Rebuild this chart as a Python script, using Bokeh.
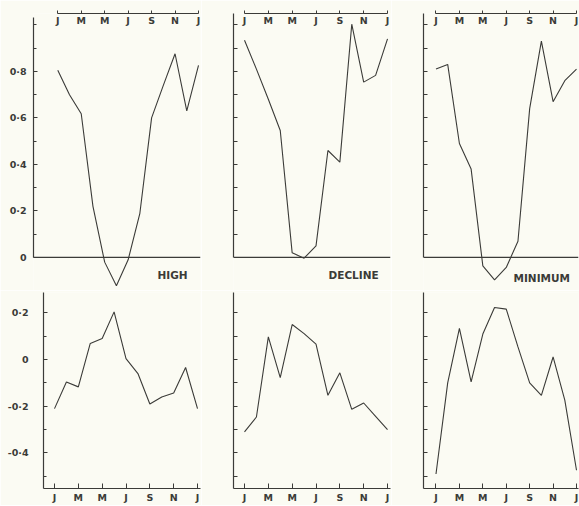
from bokeh.plotting import figure
from bokeh.models import Range1d, FixedTicker, Span
from bokeh.layouts import column, row
from bokeh.embed import file_html
from bokeh.resources import INLINE
from bokeh.core.properties import value

# ---------------- data ----------------
months = list(range(13))                      # Jan .. Jan
month_ticks = [0, 2, 4, 6, 8, 10, 12]
month_labels = ["J", "M", "M", "J", "S", "N", "J"]
panel_names = ["HIGH", "DECLINE", "MINIMUM"]

high_top = [0.805, 0.70, 0.618, 0.22, -0.02, -0.122, -0.01, 0.19, 0.60, 0.74, 0.876, 0.63, 0.826]
decline_top = [0.934, 0.81, 0.68, 0.546, 0.02, -0.003, 0.05, 0.46, 0.41, 1.003, 0.754, 0.783, 0.94]
minimum_top = [0.81, 0.83, 0.49, 0.38, -0.036, -0.096, -0.043, 0.07, 0.64, 0.93, 0.67, 0.76, 0.81]

high_bot = [-0.21, -0.096, -0.117, 0.069, 0.09, 0.204, 0.004, -0.06, -0.19, -0.16, -0.143, -0.034, -0.21]
decline_bot = [-0.31, -0.246, 0.097, -0.077, 0.15, 0.111, 0.066, -0.153, -0.057, -0.213, -0.186, -0.243, -0.30]
minimum_bot = [-0.49, -0.10, 0.133, -0.096, 0.109, 0.223, 0.216, 0.054, -0.10, -0.153, 0.011, -0.174, -0.474]

top_ticks = [0, 0.2, 0.4, 0.6, 0.8]
top_tick_labels = ["0", "0·2", "0·4", "0·6", "0·8"]
top_minor = [0.1, 0.3, 0.5, 0.7, 0.9, 1.0]
top_all = [0.1, 0.2, 0.3, 0.4, 0.5, 0.6, 0.7, 0.8, 0.9, 1.0]

bot_ticks = [-0.4, -0.2, 0, 0.2]
bot_tick_labels = ["-0·4", "-0·2", "0", "0·2"]
bot_minor = [-0.5, -0.3, -0.1, 0.1]
bot_all = [-0.5, -0.4, -0.3, -0.2, -0.1, 0, 0.1, 0.2]

# ---------------- style ----------------
INK = "#3b3b38"
PAPER = "#fbfbf3"
FONT = "DejaVu Sans"

col_w = [201, 190, 188]
top_border = [33, 32, 32]
bot_border = [43, 32, 32]
right_border = [1, 1, 1]
top_x = [(-2.07, 12.17), (-0.923, 12.25), (-1.067, 12.17)]
bot_x = [(-0.923, 12.25), (-0.923, 12.25), (-1.067, 12.17)]
TOP_H, BOT_H = 290, 215


def base(width, height, xr, yr, bl, br, xloc, bb, bt):
    p = figure(width=width, height=height, x_range=Range1d(*xr), y_range=Range1d(*yr),
               output_backend="svg", toolbar_location=None,
               x_axis_location=xloc, y_axis_location="left",
               min_border_left=bl, min_border_right=br, min_border_top=bt, min_border_bottom=bb)
    p.background_fill_color = PAPER
    p.border_fill_color = PAPER
    p.outline_line_color = None
    p.grid.visible = False
    for ax in (p.xaxis[0], p.yaxis[0]):
        ax.axis_line_color = INK
        ax.axis_line_width = 1.2
        ax.major_tick_line_color = INK
        ax.minor_tick_line_color = INK
        ax.major_label_text_font = FONT
        ax.major_label_text_font_style = "bold"
        ax.major_label_text_color = INK
        ax.major_label_text_font_size = "9.5px"
    yax = p.yaxis[0]
    yax.major_tick_in = 4
    yax.major_tick_out = 0
    yax.minor_tick_in = 3
    yax.minor_tick_out = 0
    yax.major_label_standoff = 7
    return p


panels_top = []
for i, vals in enumerate([high_top, decline_top, minimum_top]):
    p = base(col_w[i], TOP_H, top_x[i], (-0.142, 1.049), top_border[i], right_border[i], "above", 0, 13)
    xax = p.xaxis[0]
    xax.ticker = FixedTicker(ticks=month_ticks, minor_ticks=[])
    xax.major_label_overrides = dict(zip(month_ticks, month_labels))
    xax.bounds = (0, 12)
    xax.major_tick_out = 3
    xax.major_tick_in = 0
    xax.major_label_standoff = -15
    yax = p.yaxis[0]
    if i == 0:
        yax.ticker = FixedTicker(ticks=top_ticks, minor_ticks=top_minor)
        yax.major_label_overrides = dict(zip(top_ticks, top_tick_labels))
        yax.bounds = (0, 1.03)
    else:
        yax.ticker = FixedTicker(ticks=[], minor_ticks=top_all)
        yax.minor_tick_in = 4
        yax.bounds = (0, 1.049)
    p.add_layout(Span(location=0, dimension="width", line_color=INK, line_width=1.2))
    p.line(months, vals, line_color=INK, line_width=1.1)
    panels_top.append(p)

# panel names
name_pos = [(8.5, -0.077), (7.05, -0.077), (6.62, -0.09)]
for i, p in enumerate(panels_top):
    p.text(x=[name_pos[i][0]], y=[name_pos[i][1]], text=[panel_names[i]],
           text_font=value(FONT), text_font_style="bold", text_font_size="10.5px",
           text_color=INK, text_align="left", text_baseline="middle")

panels_bot = []
for i, vals in enumerate([high_bot, decline_bot, minimum_bot]):
    p = base(col_w[i], BOT_H, bot_x[i], (-0.552, 0.287), bot_border[i], right_border[i], "below", 17, 2)
    xax = p.xaxis[0]
    xax.ticker = FixedTicker(ticks=month_ticks, minor_ticks=[])
    xax.major_label_overrides = dict(zip(month_ticks, month_labels))
    xax.major_tick_in = 5
    xax.major_tick_out = 0
    xax.major_label_standoff = 3
    yax = p.yaxis[0]
    if i == 0:
        yax.ticker = FixedTicker(ticks=bot_ticks, minor_ticks=bot_minor)
        yax.major_label_overrides = dict(zip(bot_ticks, bot_tick_labels))
        yax.major_label_standoff = 15
    else:
        yax.ticker = FixedTicker(ticks=[], minor_ticks=bot_all)
        yax.minor_tick_in = 4
    p.line(months, vals, line_color=INK, line_width=1.1)
    panels_bot.append(p)

layout = column(row(*panels_top, spacing=0), row(*panels_bot, spacing=0), spacing=0)
open("out.html", "w").write(file_html(layout, INLINE))
